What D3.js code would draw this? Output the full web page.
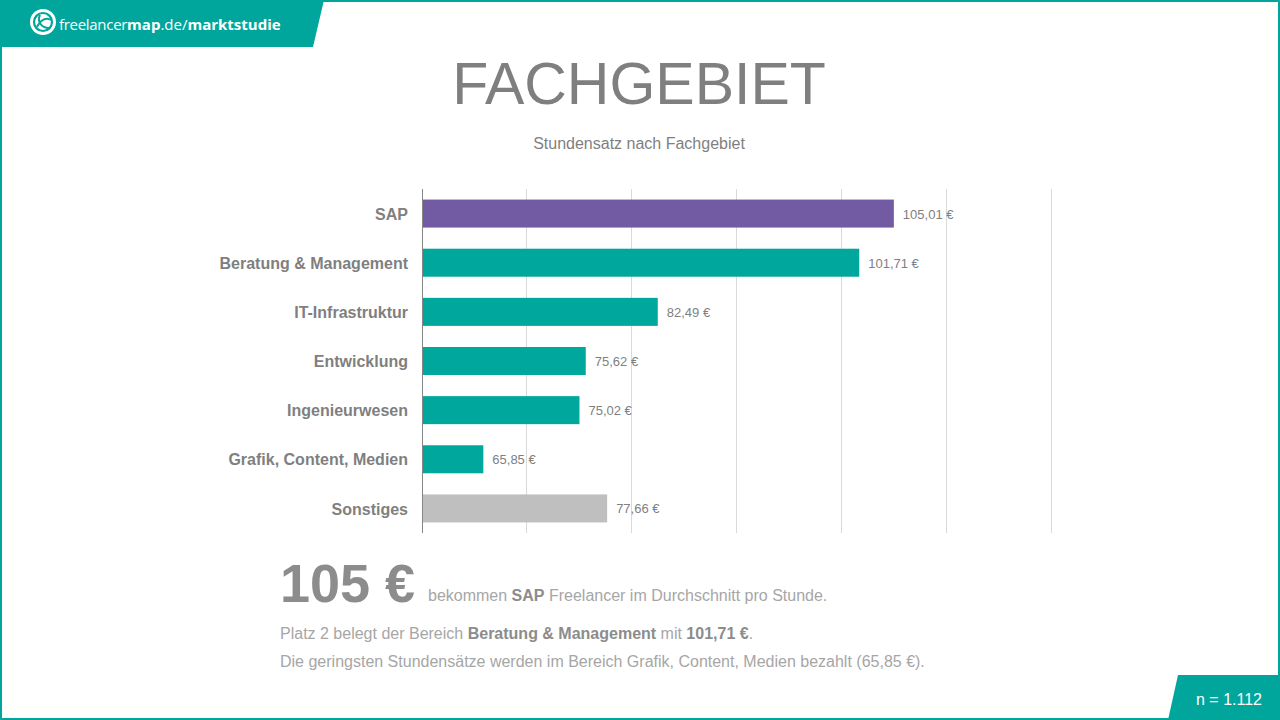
<!DOCTYPE html>
<html><head><meta charset="utf-8">
<script src="https://cdn.jsdelivr.net/npm/d3@7"></script>
<style>html,body{margin:0;padding:0;background:#fff;}svg{display:block;font-family:"Liberation Sans",Arial,sans-serif;}</style>
</head><body>
<svg id="c" width="1280" height="720"></svg>
<script>
const categories = ["SAP","Beratung & Management","IT-Infrastruktur","Entwicklung","Ingenieurwesen","Grafik, Content, Medien","Sonstiges"];
const values = [105.01,101.71,82.49,75.62,75.02,65.85,77.66];
const valueLabels = ["105,01 €","101,71 €","82,49 €","75,62 €","75,02 €","65,85 €","77,66 €"];
const barColors = ["#735BA4","#00A79D","#00A79D","#00A79D","#00A79D","#00A79D","#BFBFBF"];
const xTicks = [60,70,80,90,100,110,120];

const svg = d3.select("#c");
const teal = "#00A69C";

// border
svg.append("rect").attr("x",1).attr("y",1).attr("width",1278).attr("height",718)
  .attr("fill","none").attr("stroke",teal).attr("stroke-width",2);

// header band
svg.append("path").attr("d","M0,0 L324,0 L313,47 L0,47 Z").attr("fill",teal);
// logo
const lg = svg.append("g").attr("transform","translate(43,22)");
lg.append("circle").attr("r",13).attr("fill","#fff");
lg.append("circle").attr("r",9).attr("fill","none").attr("stroke",teal).attr("stroke-width",2.2);
lg.append("path").attr("d","M-6,5 C-2,-3 4,-5 8,-2").attr("fill","none").attr("stroke",teal).attr("stroke-width",2);
lg.append("path").attr("d","M-3,-7 C-6,-1 -2,6 6,6").attr("fill","none").attr("stroke",teal).attr("stroke-width",2);
const lt = svg.append("text").attr("x",59).attr("y",30).attr("fill","#fff").attr("font-size",15)
  .attr("font-family","'Open Sans','Liberation Sans',sans-serif");
lt.append("tspan").text("freelancer").attr("letter-spacing",-0.3);
lt.append("tspan").text("map").attr("font-weight","bold");
lt.append("tspan").text(".de/");
lt.append("tspan").text("marktstudie").attr("font-weight","bold");

// title
svg.append("text").attr("x",639).attr("y",104).attr("text-anchor","middle")
  .attr("font-size",59).attr("fill","#7F7F7F").text("FACHGEBIET");
svg.append("text").attr("x",639).attr("y",149).attr("text-anchor","middle")
  .attr("font-size",16).attr("fill","#7F7F7F").text("Stundensatz nach Fachgebiet");

// chart
const x = d3.scaleLinear().domain([60,120]).range([422,1051]);
const y = d3.scaleBand().domain(categories).range([189,533]).paddingInner(0.43).paddingOuter(0.215);

const g = svg.append("g");
g.selectAll("line.grid").data(xTicks.slice(1)).join("line").attr("class","grid")
  .attr("x1",d=>x(d)).attr("x2",d=>x(d)).attr("y1",189).attr("y2",533)
  .attr("stroke","#D9D9D9").attr("stroke-width",1).attr("shape-rendering","crispEdges");

g.selectAll("rect.bar").data(values).join("rect").attr("class","bar")
  .attr("x",x(60)).attr("y",(d,i)=>y(categories[i]))
  .attr("width",d=>x(d)-x(60)).attr("height",y.bandwidth())
  .attr("fill",(d,i)=>barColors[i]);

g.append("line").attr("x1",x(60)).attr("x2",x(60)).attr("y1",189).attr("y2",533)
  .attr("stroke","#868686").attr("stroke-width",1).attr("shape-rendering","crispEdges");

g.selectAll("text.val").data(values).join("text").attr("class","val")
  .attr("x",d=>x(d)+9).attr("y",(d,i)=>y(categories[i])+y.bandwidth()/2+5)
  .attr("font-size",13).attr("fill","#7F7F7F").text((d,i)=>valueLabels[i]);

const yAxis = d3.axisLeft(y).tickSize(0).tickPadding(14);
const ya = svg.append("g").attr("transform",`translate(${x(60)},0)`).call(yAxis);
ya.select(".domain").remove();
ya.selectAll("text").attr("font-size",16).attr("font-weight","bold").attr("fill","#7F7F7F")
  .attr("dy","0.38em")
  .attr("font-family","'Liberation Sans',Arial,sans-serif");

// bottom text
svg.append("text").attr("x",280).attr("y",602).attr("font-size",54).attr("font-weight","bold")
  .attr("fill","#8C8C8C").text("105 €");
const t1 = svg.append("text").attr("x",428).attr("y",601).attr("font-size",16).attr("fill","#A6A6A6");
t1.append("tspan").text("bekommen ");
t1.append("tspan").text("SAP").attr("font-weight","bold").attr("fill","#8C8C8C");
t1.append("tspan").text(" Freelancer im Durchschnitt pro Stunde.");
const t2 = svg.append("text").attr("x",280).attr("y",639).attr("font-size",16).attr("fill","#A6A6A6");
t2.append("tspan").text("Platz 2 belegt der Bereich ");
t2.append("tspan").text("Beratung & Management").attr("font-weight","bold").attr("fill","#8C8C8C");
t2.append("tspan").text(" mit ");
t2.append("tspan").text("101,71 €").attr("font-weight","bold").attr("fill","#8C8C8C");
t2.append("tspan").text(".");
svg.append("text").attr("x",280).attr("y",667).attr("font-size",16).attr("fill","#A6A6A6")
  .text("Die geringsten Stundensätze werden im Bereich Grafik, Content, Medien bezahlt (65,85 €).");

// n box
svg.append("path").attr("d","M1178,675 L1280,675 L1280,720 L1168,720 Z").attr("fill",teal);
svg.append("text").attr("x",1229).attr("y",705).attr("text-anchor","middle")
  .attr("font-size",16).attr("fill","#fff").text("n = 1.112");
</script>
</body></html>
